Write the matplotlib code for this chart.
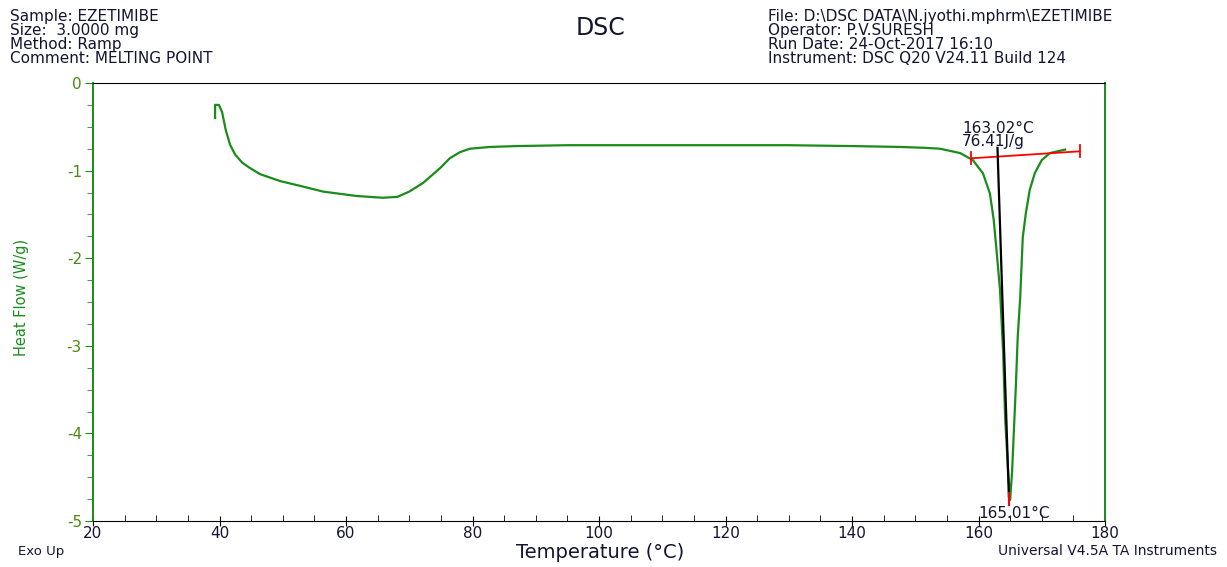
import numpy as np
import matplotlib
matplotlib.use("Agg")
from matplotlib import pyplot as plt
from matplotlib.ticker import MultipleLocator

plt.rcParams['font.family'] = ['DejaVu Sans']
plt.rcParams['axes.unicode_minus'] = False

green = "#1a8c1a"
text_col = "#141432"

# DSC trace
temp = [39.3, 39.3, 39.9, 40.4, 41.0, 41.7, 42.5, 43.6, 44.8, 46.4, 49.6, 52.5, 56.4,
        61.7, 65.8, 68.1, 70.0, 72.2, 74.9, 76.4, 78.0, 79.6, 82.8, 87.0, 95.0, 105.0,
        118.0, 130.0, 140.0, 147.6, 151.5, 153.9, 157.1, 159.1, 160.7, 161.8, 162.4,
        162.8, 163.4, 163.9, 164.2, 164.7, 165.0, 165.3, 165.9, 166.2, 166.6, 167.0,
        167.5, 168.1, 168.9, 170.0, 171.3, 173.7]
heat_flow = [-0.40, -0.25, -0.25, -0.33, -0.54, -0.71, -0.82, -0.91, -0.97, -1.04, -1.12,
             -1.17, -1.24, -1.29, -1.31, -1.30, -1.24, -1.14, -0.97, -0.86, -0.79, -0.75,
             -0.73, -0.72, -0.71, -0.71, -0.71, -0.71, -0.72, -0.73, -0.74, -0.75, -0.80,
             -0.88, -1.03, -1.26, -1.56, -1.87, -2.36, -3.08, -3.81, -4.45, -4.76, -4.45,
             -3.47, -2.90, -2.44, -1.76, -1.48, -1.22, -1.03, -0.88, -0.80, -0.76]

# peak integration annotations
baseline_t = [158.8, 176.0]
baseline_hf = [-0.86, -0.78]
onset_t = [163.0, 164.8]
onset_hf = [-0.74, -4.72]
peak_t = 164.8
peak_hf = [-4.68, -4.82]

header_left = ["Sample: EZETIMIBE", "Size:  3.0000 mg", "Method: Ramp",
               "Comment: MELTING POINT"]
header_right = ["File: D:\\DSC DATA\\N.jyothi.mphrm\\EZETIMIBE", "Operator: P.V.SURESH",
                "Run Date: 24-Oct-2017 16:10", "Instrument: DSC Q20 V24.11 Build 124"]

W, H = 1227, 567
fig = plt.figure(figsize=(W / 100, H / 100), dpi=100)
ax = fig.add_axes([93 / W, 1 - 521 / H, (1105 - 93) / W, (521 - 83) / H])

ax.plot(temp, heat_flow, color=green, lw=1.6)
ax.plot(baseline_t, baseline_hf, color="red", lw=1.3)
for t, h in zip(baseline_t, baseline_hf):
    ax.plot([t, t], [h - 0.07, h + 0.07], color="red", lw=1.3)
ax.plot(onset_t, onset_hf, color="black", lw=1.6)
ax.plot([peak_t, peak_t], peak_hf, color="red", lw=1.5)

ax.text(157.4, -0.59, "163.02°C\n76.41J/g", fontsize=11, color=text_col,
        ha="left", va="center", linespacing=0.85)
ax.text(165.6, -4.92, "165.01°C", fontsize=11, color=text_col, ha="center", va="center")

ax.set_xlim(20, 180)
ax.set_ylim(-5, 0)
ax.xaxis.set_major_locator(MultipleLocator(20))
ax.xaxis.set_minor_locator(MultipleLocator(5))
ax.yaxis.set_major_locator(MultipleLocator(1))
ax.yaxis.set_minor_locator(MultipleLocator(0.25))

ax.tick_params(axis="x", which="major", direction="inout", length=7, labelsize=11,
               labelcolor=text_col, pad=0)
ax.tick_params(axis="x", which="minor", direction="in", length=4)
ax.tick_params(axis="y", which="major", direction="out", length=6, color=green,
               labelsize=11, labelcolor="#4a8a10", pad=2)
ax.tick_params(axis="y", which="minor", direction="out", length=4, color=green)

ax.spines["left"].set_color(green)
ax.spines["right"].set_color(green)
ax.spines["left"].set_linewidth(1.4)
ax.spines["right"].set_linewidth(1.4)
ax.spines["top"].set_color("black")
ax.spines["bottom"].set_color("black")

for i, s in enumerate(header_left):
    fig.text(10 / W, 1 - (17 + 13.7 * i) / H, s, fontsize=11, color=text_col, va="center")
for i, s in enumerate(header_right):
    fig.text(768 / W, 1 - (17 + 13.7 * i) / H, s, fontsize=11, color=text_col, va="center")
fig.text(600 / W, 1 - 28 / H, "DSC", fontsize=17, color=text_col, ha="center", va="center")

fig.text(22 / W, 1 - 297 / H, "Heat Flow (W/g)", fontsize=10.5, color=green,
         rotation=90, ha="center", va="center")
fig.text(600 / W, 1 - 553 / H, "Temperature (°C)", fontsize=14, color=text_col,
         ha="center", va="center")
fig.text(18 / W, 1 - 551 / H, "Exo Up", fontsize=9.5, color=text_col, va="center")
fig.text(1217 / W, 1 - 551 / H, "Universal V4.5A TA Instruments", fontsize=10,
         color=text_col, ha="right", va="center")

fig.savefig("out.png", dpi=100)
